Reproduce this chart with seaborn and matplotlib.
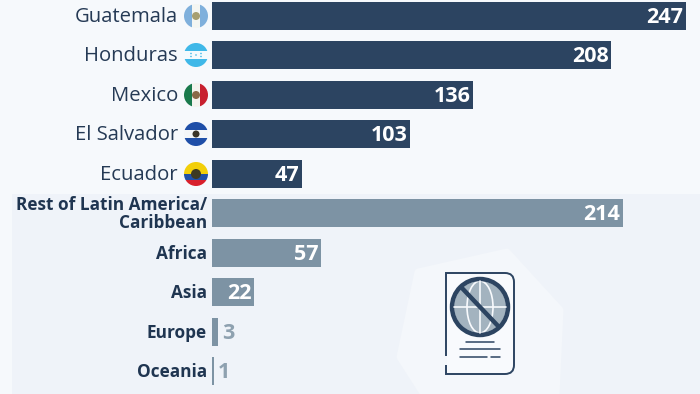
#! /usr/bin/env python3
# -*- coding: utf-8 -*-
import matplotlib as mpl
mpl.use('Agg')
import matplotlib.pyplot as plt
import matplotlib.patches as mpatches
from matplotlib.path import Path
import seaborn as sns
import pandas as pd

sns.set_theme(style='white')
plt.rcParams['font.family'] = ['Open Sans', 'DejaVu Sans']

#========================================================================================
# data
countries = ['Guatemala', 'Honduras', 'Mexico', 'El Salvador', 'Ecuador']
country_values = [247, 208, 136, 103, 47]
regions = ['Rest of Latin America/\nCaribbean', 'Africa', 'Asia', 'Europe', 'Oceania']
region_values = [214, 57, 22, 3, 1]

df = pd.DataFrame({'name': countries + regions,
                   'value': country_values + region_values,
                   'group': ['country'] * 5 + ['region'] * 5})

#========================================================================================
# colours
dark = '#2c4461'
light = '#7d93a4'
bg = '#f6f9fc'
band = '#eff3f9'
blob = '#f4f7fb'

px_per_unit = 1.919
x0 = 212
row = 39.44
y0 = 16

fig = plt.figure(figsize=(7.0, 3.94), dpi=100, facecolor=bg)

# pixel axes for the decoration behind the bars
bk = fig.add_axes([0, 0, 1, 1], zorder=0)
bk.set_xlim(0, 700)
bk.set_ylim(394, 0)
bk.axis('off')
bk.add_patch(mpatches.Rectangle((12, 194), 688, 200, fc=band, ec='none'))
bk.add_patch(mpatches.Polygon([(400, 357), (418, 272), (507, 252), (560, 310),
                               (556, 396), (425, 396)], closed=True, fc=blob, ec=blob,
                              lw=5, joinstyle='round'))

ax = fig.add_axes([0, 0, 1, 1], zorder=1)
ax.patch.set_alpha(0)
sns.barplot(data=df, x='value', y='name', hue='group', palette={'country': dark, 'region': light},
            dodge=False, width=28 / row, legend=False, saturation=1, linewidth=0, ax=ax)
ax.set_xlim(-x0 / px_per_unit, (700 - x0) / px_per_unit)
ax.set_ylim((394 - y0) / row, -y0 / row)
ax.axis('off')

# labels
up = 1.5 / row
for i, (name, val) in enumerate(zip(df['name'], df['value'])):
    if i < 5:
        ax.text((178 - x0) / px_per_unit, i + up * 0.7, name, ha='right', va='center', fontsize=14.6, color='#253a55')
    else:
        ax.text((207 - x0) / px_per_unit, i + up * 0.7, name, ha='right', va='center', fontsize=12.4, color='#1f3551',
                fontweight='bold', linespacing=1.0)
    if val > 10:
        ax.text(val - 2.5 / px_per_unit, i + up, str(val), ha='right', va='center', fontsize=15.5,
                color='white', fontweight='bold')
    else:
        ax.text(val + 4 / px_per_unit, i + up, str(val), ha='left', va='center', fontsize=15.5,
                color='#8ea1b0', fontweight='bold')

# pixel axes on top for the flags and the passport icon
fg = fig.add_axes([0, 0, 1, 1], zorder=2)
fg.patch.set_alpha(0)
fg.set_xlim(0, 700)
fg.set_ylim(394, 0)
fg.axis('off')


def flag(cy, bands, horizontal=True, emblem=None):
    cx = 196
    r = 12
    clip = mpatches.Circle((cx, cy), r, transform=fg.transData)
    n = sum(w for w, c in bands)
    pos = 0
    for w, c in bands:
        size = 2 * r * w / n
        if horizontal:
            rect = mpatches.Rectangle((cx - r, cy - r + pos), 2 * r, size, fc=c, ec='none')
        else:
            rect = mpatches.Rectangle((cx - r + pos, cy - r), size, 2 * r, fc=c, ec='none')
        fg.add_patch(rect)
        rect.set_clip_path(clip)
        pos += size
    if emblem:
        fg.add_patch(mpatches.Circle((cx, cy), emblem[0], fc=emblem[1], ec='none'))


flag(16, [(1, '#7fb0dc'), (1.1, '#f4f6f2'), (1, '#7fb0dc')], horizontal=False, emblem=(4, '#a79f70'))
flag(55, [(1, '#3fb8e8'), (1, '#f4fafd'), (1, '#3fb8e8')])
for dx, dy in [(-5, -1.5), (5, -1.5), (0, 0), (-5, 1.5), (5, 1.5)]:
    fg.add_patch(mpatches.Circle((196 + dx, 55 + dy), 0.8, fc='#3fb8e8', ec='none'))
flag(95, [(1, '#1a7a4c'), (1.1, '#f5f3ee'), (1, '#c8202f')], horizontal=False, emblem=(4, '#8a6a48'))
flag(134, [(1, '#1f4fa8'), (1, '#f4f6f8'), (1, '#1f4fa8')], emblem=(3.5, '#3a3428'))
flag(174, [(2, '#f2cf0a'), (1, '#2050a8'), (1, '#d8202c')], emblem=(5, '#3d3a22'))

# passport icon
fg.add_patch(mpatches.PathPatch(Path([(447, 274), (505, 274), (513, 274), (513, 283), (513, 364),
                                      (513, 373), (505, 373), (447, 373), (447, 274)],
                                     [Path.MOVETO, Path.LINETO, Path.CURVE3, Path.CURVE3, Path.LINETO,
                                      Path.CURVE3, Path.CURVE3, Path.LINETO, Path.CLOSEPOLY]),
                                fc='#f8fafd', ec='none'))
fg.add_patch(mpatches.PathPatch(Path([(446, 356), (446, 273), (505, 273), (514, 273), (514, 282),
                                      (514, 365), (514, 374), (505, 374), (446, 374), (446, 365)],
                                     [Path.MOVETO, Path.LINETO, Path.LINETO, Path.CURVE3, Path.CURVE3,
                                      Path.LINETO, Path.CURVE3, Path.CURVE3, Path.LINETO, Path.LINETO]),
                                fc='none', ec=dark, lw=1.4, capstyle='butt'))
fg.add_patch(mpatches.Circle((480, 307), 26, fc='#a3b3bf', ec='none'))
fg.add_patch(mpatches.Ellipse((480, 307), 26, 52, fc='none', ec='#f8fafd', lw=1.2))
fg.plot([480, 480], [281, 333], color='#f8fafd', lw=1.2)
fg.plot([454, 506], [307, 307], color='#f8fafd', lw=1.2)
fg.add_patch(mpatches.Circle((480, 307), 28, fc='none', ec=dark, lw=3.2))
fg.plot([461, 499], [287, 327], color=dark, lw=3.2, solid_capstyle='butt')
fg.plot([466, 494], [342, 342], color=dark, lw=1.1)
fg.plot([460, 500], [349, 349], color=dark, lw=1.1)
fg.plot([460, 487], [357, 357], color=dark, lw=1.1)
fg.plot([491, 500], [357, 357], color=dark, lw=1.1)

plt.savefig('out.png', dpi=100, facecolor=bg)
